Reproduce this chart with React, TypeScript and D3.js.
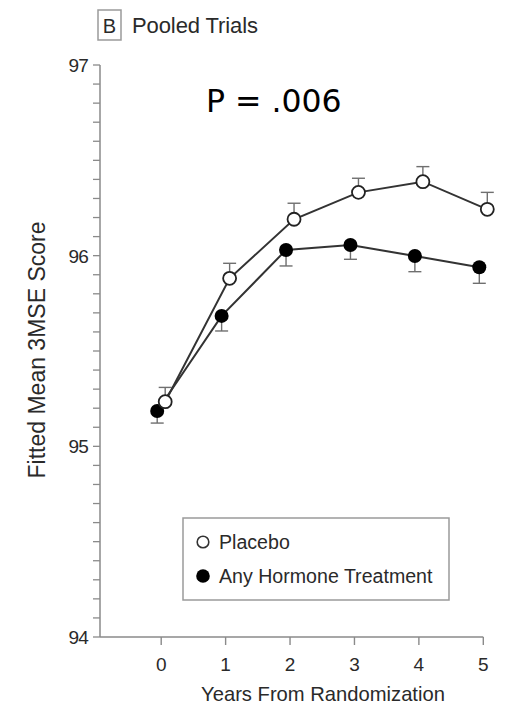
import React from "react";
import * as d3 from "d3";

// Years since randomization
const years = [0, 1, 2, 3, 4, 5];
// Fitted mean 3MSE scores
const placebo = [95.234, 95.881, 96.191, 96.332, 96.388, 96.243];
const hormone = [95.185, 95.684, 96.03, 96.056, 95.998, 95.939];
// Standard error half-widths (placebo shown above, hormone shown below)
const placeboErr = [0.075, 0.079, 0.084, 0.074, 0.079, 0.089];
const hormoneErr = [0.063, 0.079, 0.084, 0.075, 0.082, 0.084];
// Axis ticks
const yMajor = [94, 95, 96, 97];
const xTicks = [0, 1, 2, 3, 4, 5];

const W = 510;
const H = 708;
const font = "'Liberation Sans', Arial, Helvetica, sans-serif";
const textColor = "#2a2a2a";
const axisColor = "#8a8a8a";

export default function App() {
  const x = d3.scaleLinear().domain([-0.95, 5]).range([100, 483.3]);
  const y = d3.scaleLinear().domain([94, 97]).range([637, 65]);
  const minor = d3.range(940, 971).map((v) => v / 10);
  const dodge = 4;
  const line = d3
    .line<[number, number]>()
    .x((d) => d[0])
    .y((d) => d[1]);

  const pPts: [number, number][] = years.map((t, i) => [x(t) + dodge, y(placebo[i])]);
  const hPts: [number, number][] = years.map((t, i) => [x(t) - dodge, y(hormone[i])]);
  const capW = 13;
  const r = 6.5;

  return (
    <svg
      width={W}
      height={H}
      viewBox={`0 0 ${W} ${H}`}
      style={{ position: "absolute", left: 0, top: 0, background: "#fff" }}
    >
      {/* panel label */}
      <rect x={98} y={10} width={23} height={30} fill="none" stroke="#9a9a9a" strokeWidth={1.5} />
      <text x={109.5} y={33} textAnchor="middle" fontFamily={font} fontSize={20} fill={textColor}>
        B
      </text>
      <text x={132} y={33} fontFamily={font} fontSize={22} fill={textColor} letterSpacing={-0.1}>
        Pooled Trials
      </text>

      {/* P value */}
      <text x={206} y={112} fontFamily="'DejaVu Sans', sans-serif" fontSize={31.5} fill="#000">
        P = .006
      </text>

      {/* y axis */}
      <line x1={100} x2={100} y1={y(97)} y2={y(94)} stroke={axisColor} strokeWidth={1.5} />
      {minor.map((v) => (
        <line key={v} x1={93} x2={100} y1={y(v)} y2={y(v)} stroke={axisColor} strokeWidth={1.3} />
      ))}
      {yMajor.map((v) => (
        <text
          key={v}
          x={88}
          y={y(v)}
          dy="0.36em"
          textAnchor="end"
          fontFamily={font}
          fontSize={19}
          fill={textColor}
          letterSpacing={-0.8}
        >
          {v}
        </text>
      ))}
      <text
        transform={`translate(45,350) rotate(-90)`}
        textAnchor="middle"
        fontFamily={font}
        fontSize={23}
        fill={textColor}
      >
        Fitted Mean 3MSE Score
      </text>

      {/* x axis */}
      <line x1={100} x2={x(5)} y1={637} y2={637} stroke={axisColor} strokeWidth={1.5} />
      {xTicks.map((t) => (
        <g key={t}>
          <line x1={x(t)} x2={x(t)} y1={637} y2={645} stroke={axisColor} strokeWidth={1.4} />
          <text x={x(t)} y={671} textAnchor="middle" fontFamily={font} fontSize={19} fill={textColor}>
            {t}
          </text>
        </g>
      ))}
      <text x={323} y={701} textAnchor="middle" fontFamily={font} fontSize={20.2} fill={textColor}>
        Years From Randomization
      </text>

      {/* error bars */}
      {pPts.map(([px], i) => {
        const top = y(placebo[i] + placeboErr[i]);
        return (
          <g key={`pe${i}`} stroke="#6f6f6f" strokeWidth={1.4}>
            <line x1={px} x2={px} y1={pPts[i][1]} y2={top} />
            <line x1={px - capW / 2} x2={px + capW / 2} y1={top} y2={top} />
          </g>
        );
      })}
      {hPts.map(([hx], i) => {
        const bot = y(hormone[i] - hormoneErr[i]);
        return (
          <g key={`he${i}`} stroke="#6f6f6f" strokeWidth={1.4}>
            <line x1={hx} x2={hx} y1={hPts[i][1]} y2={bot} />
            <line x1={hx - capW / 2} x2={hx + capW / 2} y1={bot} y2={bot} />
          </g>
        );
      })}

      {/* series lines */}
      <path d={line(hPts) ?? ""} fill="none" stroke="#333" strokeWidth={2} />
      <path d={line(pPts) ?? ""} fill="none" stroke="#333" strokeWidth={2} />

      {/* markers */}
      {hPts.map(([cx, cy], i) => (
        <circle key={`hm${i}`} cx={cx} cy={cy} r={r + 0.5} fill="#000" />
      ))}
      {pPts.map(([cx, cy], i) => (
        <circle key={`pm${i}`} cx={cx} cy={cy} r={r} fill="#fff" stroke="#222" strokeWidth={1.8} />
      ))}

      {/* legend */}
      <rect x={183} y={518} width={266} height={82} fill="#fff" stroke="#9a9a9a" strokeWidth={1.5} />
      <circle cx={203} cy={542} r={5.8} fill="#fff" stroke="#333" strokeWidth={1.6} />
      <text x={219} y={542} dy="0.36em" fontFamily={font} fontSize={19.6} fill={textColor}>
        Placebo
      </text>
      <circle cx={203} cy={576} r={6.8} fill="#000" />
      <text x={219} y={576} dy="0.36em" fontFamily={font} fontSize={19.6} fill={textColor}>
        Any Hormone Treatment
      </text>
    </svg>
  );
}
